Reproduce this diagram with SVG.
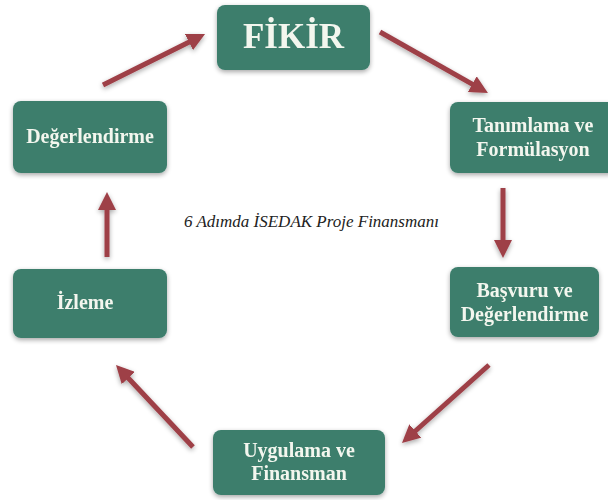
<svg xmlns="http://www.w3.org/2000/svg" width="608" height="500" viewBox="0 0 608 500">
  <defs>
    <filter id="sh" x="-20%" y="-20%" width="140%" height="150%">
      <feGaussianBlur in="SourceAlpha" stdDeviation="2.5"/>
      <feOffset dx="0" dy="2" result="b"/>
      <feComponentTransfer><feFuncA type="linear" slope="0.35"/></feComponentTransfer>
      <feMerge><feMergeNode/><feMergeNode in="SourceGraphic"/></feMerge>
    </filter>
    <marker id="ah" markerUnits="userSpaceOnUse" markerWidth="18" markerHeight="18" refX="6" refY="9" orient="auto">
      <path d="M0,0 L18,9 L0,18 z" fill="#9e3f47"/>
    </marker>
    <style>
      .box { fill: #3c7e6c; }
      .lbl { font-family: "Liberation Serif", "Times New Roman", serif; font-weight: bold; font-size: 20px; fill: #f3f6ee; text-anchor: middle; }
      .big { font-size: 35px; }
      .title { font-family: "Liberation Serif", "Times New Roman", serif; font-style: italic; font-size: 17px; fill: #222; text-anchor: middle; }
      .arr { stroke: #9e3f47; stroke-width: 5; fill: none; marker-end: url(#ah); }
    </style>
  </defs>
  <rect width="608" height="500" fill="#ffffff"/>

  <g id="connectors" filter="url(#sh)">
    <line class="arr" x1="107" y1="257" x2="107" y2="204"/>
    <line class="arr" x1="103" y1="85" x2="194.3" y2="39.4"/>
    <line class="arr" x1="380" y1="32" x2="477.5" y2="87.1"/>
    <line class="arr" x1="503" y1="188" x2="503" y2="246"/>
    <line class="arr" x1="489" y1="365" x2="410.9" y2="435"/>
    <line class="arr" x1="193" y1="447" x2="124.2" y2="373.7"/>
  </g>

  <g id="fikir" filter="url(#sh)">
    <rect class="box" x="217" y="5" width="153" height="65" rx="8"/>
    <text class="lbl big" x="293.5" y="48">FİKİR</text>
  </g>

  <g id="tanimlama" filter="url(#sh)">
    <rect class="box" x="450" y="102" width="166" height="71" rx="8"/>
    <text class="lbl" x="533" y="132">Tanımlama ve</text>
    <text class="lbl" x="533" y="156">Formülasyon</text>
  </g>

  <g id="basvuru" filter="url(#sh)">
    <rect class="box" x="450" y="267" width="149" height="70" rx="8"/>
    <text class="lbl" x="524.5" y="297">Başvuru ve</text>
    <text class="lbl" x="524.5" y="321">Değerlendirme</text>
  </g>

  <g id="uygulama" filter="url(#sh)">
    <rect class="box" x="213" y="430" width="172" height="65" rx="8"/>
    <text class="lbl" x="299" y="457">Uygulama ve</text>
    <text class="lbl" x="299" y="480">Finansman</text>
  </g>

  <g id="izleme" filter="url(#sh)">
    <rect class="box" x="13" y="269" width="154" height="69" rx="8"/>
    <text class="lbl" x="85" y="309">İzleme</text>
  </g>

  <g id="degerlendirme" filter="url(#sh)">
    <rect class="box" x="13" y="101" width="154" height="72" rx="8"/>
    <text class="lbl" x="90" y="143">Değerlendirme</text>
  </g>

  <text class="title" x="311.5" y="227">6 Adımda İSEDAK Proje Finansmanı</text>
</svg>
